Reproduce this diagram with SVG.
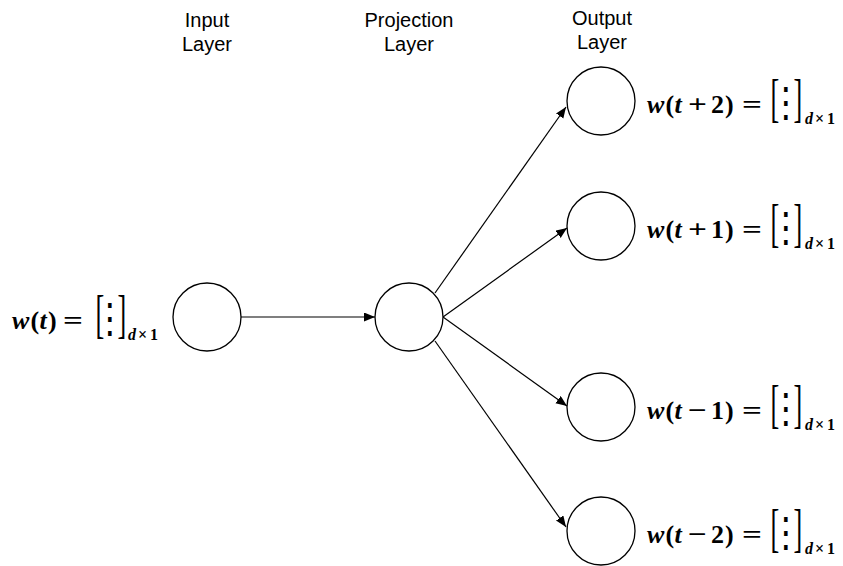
<svg xmlns="http://www.w3.org/2000/svg" width="843" height="566" viewBox="0 0 843 566">
  <style>
    .hdr { font-family: "Liberation Sans", Arial, sans-serif; font-size: 20px; fill: #000; text-anchor: middle; }
    .node { fill: #fff; stroke: #000; stroke-width: 1.3; }
    .edge { fill: none; stroke: #000; stroke-width: 1.2; marker-end: url(#arrow); }
    .m { font-family: "Liberation Serif", "Times New Roman", serif; font-size: 26px; font-weight: bold; fill: #000; }
    .mi { font-style: italic; }
    .br { font-family: "Liberation Serif", "Times New Roman", serif; font-size: 52.5px; fill: #000; }
    .dots { font-family: "DejaVu Sans", sans-serif; font-size: 34px; fill: #000; text-anchor: middle; }
    .sub { font-family: "Liberation Serif", "Times New Roman", serif; font-size: 16px; font-weight: bold; fill: #000; }
  </style>
  <defs>
    <marker id="arrow" markerWidth="12" markerHeight="10" refX="11" refY="4.5" orient="auto" markerUnits="userSpaceOnUse">
      <path d="M0,0 L11,4.5 L0,9 Z" fill="#000"/>
    </marker>
  </defs>

  <!-- layer headings -->
  <g id="headings">
    <text class="hdr" x="207" y="27">Input</text>
    <text class="hdr" x="207" y="51">Layer</text>
    <text class="hdr" x="409" y="27">Projection</text>
    <text class="hdr" x="409" y="51">Layer</text>
    <text class="hdr" x="602" y="25">Output</text>
    <text class="hdr" x="602" y="49">Layer</text>
  </g>

  <!-- connectors -->
  <g id="connectors">
    <path class="edge" d="M241,317 L375,317"/>
    <path class="edge" d="M435,293 L566,107"/>
    <path class="edge" d="M443,317 L567,228"/>
    <path class="edge" d="M443,317 L567,406"/>
    <path class="edge" d="M435,341 L566,527"/>
  </g>

  <!-- input word vector -->
  <g id="input">
    <circle class="node" cx="207" cy="317" r="34"/>
    <g transform="translate(12,329)">
      <text class="m"><tspan class="mi" x="0">w</tspan><tspan x="18.5">(</tspan><tspan class="mi" x="27.5">t</tspan><tspan x="36">)</tspan></text>
      <text class="m" x="51" textLength="20" lengthAdjust="spacingAndGlyphs">=</text>
      <text class="br" transform="translate(83.5,2.8) scale(0.5,1)">[</text>
      <text class="br" transform="translate(105.5,2.8) scale(0.5,1)">]</text>
      <text class="dots" transform="translate(98,3) scale(1,1.2)">⋮</text>
      <text class="sub" y="11"><tspan class="mi" x="116">d</tspan><tspan x="126">×</tspan><tspan x="138">1</tspan></text>
    </g>
  </g>

  <!-- projection -->
  <g id="projection">
    <circle class="node" cx="409" cy="317" r="34"/>
  </g>

  <!-- context word outputs -->
  <g id="out-t-plus-2">
    <circle class="node" cx="601" cy="101" r="34"/>
    <g transform="translate(647,113)">
      <text class="m"><tspan class="mi" x="0">w</tspan><tspan x="18.5">(</tspan><tspan class="mi" x="27.5">t</tspan></text>
      <text class="m" x="41" textLength="19" lengthAdjust="spacingAndGlyphs">+</text>
      <text class="m"><tspan x="64">2</tspan><tspan x="78">)</tspan></text>
      <text class="m" x="95" textLength="20" lengthAdjust="spacingAndGlyphs">=</text>
      <text class="br" transform="translate(123.5,2.8) scale(0.5,1)">[</text>
      <text class="br" transform="translate(146.5,2.8) scale(0.5,1)">]</text>
      <text class="dots" transform="translate(139,3) scale(1,1.2)">⋮</text>
      <text class="sub" y="11"><tspan class="mi" x="158">d</tspan><tspan x="168">×</tspan><tspan x="180">1</tspan></text>
    </g>
  </g>

  <g id="out-t-plus-1">
    <circle class="node" cx="601" cy="226" r="34"/>
    <g transform="translate(647,238)">
      <text class="m"><tspan class="mi" x="0">w</tspan><tspan x="18.5">(</tspan><tspan class="mi" x="27.5">t</tspan></text>
      <text class="m" x="41" textLength="19" lengthAdjust="spacingAndGlyphs">+</text>
      <text class="m"><tspan x="64">1</tspan><tspan x="78">)</tspan></text>
      <text class="m" x="95" textLength="20" lengthAdjust="spacingAndGlyphs">=</text>
      <text class="br" transform="translate(123.5,2.8) scale(0.5,1)">[</text>
      <text class="br" transform="translate(146.5,2.8) scale(0.5,1)">]</text>
      <text class="dots" transform="translate(139,3) scale(1,1.2)">⋮</text>
      <text class="sub" y="11"><tspan class="mi" x="158">d</tspan><tspan x="168">×</tspan><tspan x="180">1</tspan></text>
    </g>
  </g>

  <g id="out-t-minus-1">
    <circle class="node" cx="601" cy="407" r="34"/>
    <g transform="translate(647,419)">
      <text class="m"><tspan class="mi" x="0">w</tspan><tspan x="18.5">(</tspan><tspan class="mi" x="27.5">t</tspan></text>
      <text class="m" x="41" textLength="19" lengthAdjust="spacingAndGlyphs">−</text>
      <text class="m"><tspan x="64">1</tspan><tspan x="78">)</tspan></text>
      <text class="m" x="95" textLength="20" lengthAdjust="spacingAndGlyphs">=</text>
      <text class="br" transform="translate(123.5,2.8) scale(0.5,1)">[</text>
      <text class="br" transform="translate(146.5,2.8) scale(0.5,1)">]</text>
      <text class="dots" transform="translate(139,3) scale(1,1.2)">⋮</text>
      <text class="sub" y="11"><tspan class="mi" x="158">d</tspan><tspan x="168">×</tspan><tspan x="180">1</tspan></text>
    </g>
  </g>

  <g id="out-t-minus-2">
    <circle class="node" cx="601" cy="531" r="34"/>
    <g transform="translate(647,543)">
      <text class="m"><tspan class="mi" x="0">w</tspan><tspan x="18.5">(</tspan><tspan class="mi" x="27.5">t</tspan></text>
      <text class="m" x="41" textLength="19" lengthAdjust="spacingAndGlyphs">−</text>
      <text class="m"><tspan x="64">2</tspan><tspan x="78">)</tspan></text>
      <text class="m" x="95" textLength="20" lengthAdjust="spacingAndGlyphs">=</text>
      <text class="br" transform="translate(123.5,2.8) scale(0.5,1)">[</text>
      <text class="br" transform="translate(146.5,2.8) scale(0.5,1)">]</text>
      <text class="dots" transform="translate(139,3) scale(1,1.2)">⋮</text>
      <text class="sub" y="11"><tspan class="mi" x="158">d</tspan><tspan x="168">×</tspan><tspan x="180">1</tspan></text>
    </g>
  </g>
</svg>
